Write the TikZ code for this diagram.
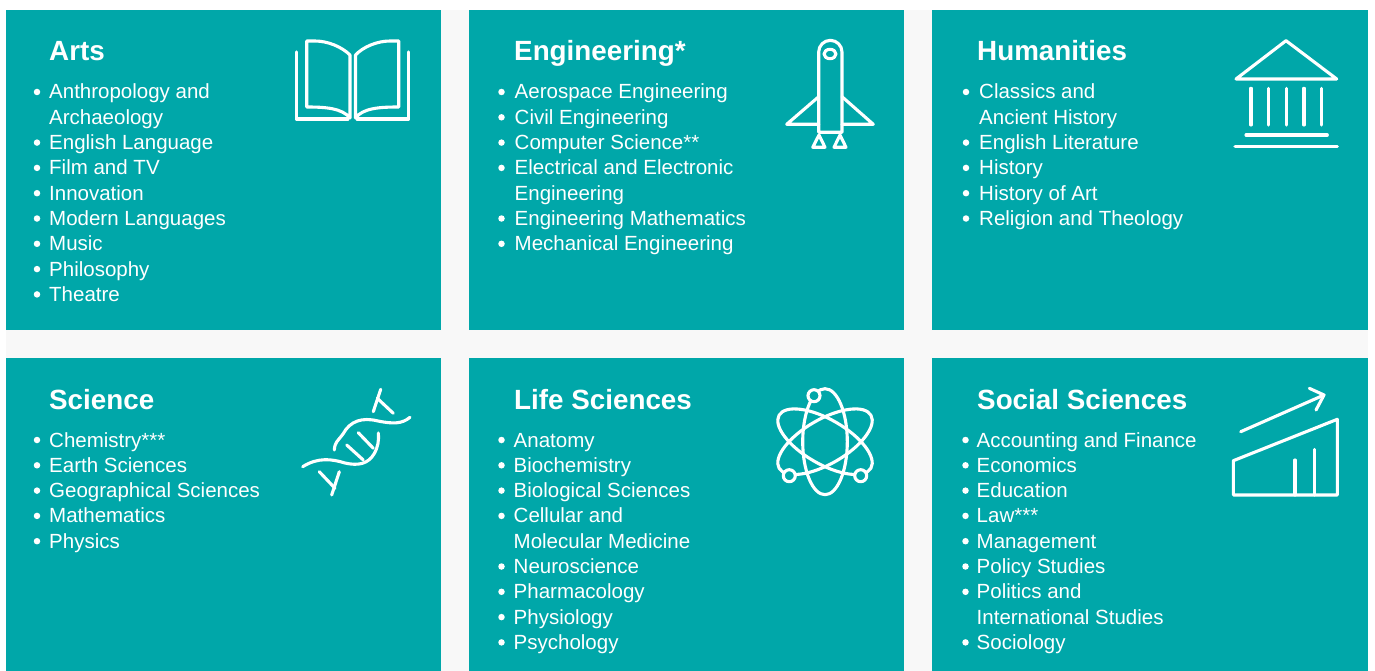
\documentclass[tikz,border=0pt]{standalone}
\usepackage{fontspec}
\setmainfont{Liberation Sans}
\definecolor{teal1}{HTML}{00A7A9}
\definecolor{gapc}{HTML}{F8F8F8}
\tikzset{x=1pt,y=-1pt,
  panel/.style={fill=teal1,draw=none,inner sep=0pt,outer sep=0pt,anchor=north west},
  ttl/.style={anchor=base west,inner sep=0pt,text=white,font=\fontsize{27.8}{32}\selectfont\bfseries},
  itm/.style={anchor=base west,inner sep=0pt,text=white,font=\fontsize{20.5}{24}\selectfont},
  bul/.style={circle,fill=white,inner sep=0pt,minimum size=6.5pt},
  icon/.style={draw=white,line width=3.1pt,line join=round,line cap=round}}
% #1 name, #2 bullet x, #3 text x, #4 first baseline, #5 list n/bullet/text
\newcommand{\lst}[5]{%
  \foreach \n/\b/\t in {#5}{%
    \pgfmathsetmacro{\yy}{#4+25.3*\n}%
    \node[itm,name=#1t\n] at (#3,\yy) {\t};
    \ifnum\b=1 \node[bul,name=#1b\n] at (#2,\yy-7) {};\fi
  }}
\begin{document}
\begin{tikzpicture}
\useasboundingbox (0,0) rectangle (1375,671);
\fill[white] (0,0) rectangle (1375,671);
\fill[gapc] (6,10) rectangle (1368,671);
\node[panel,minimum width=435pt,minimum height=320pt] (arts) at (6,10) {};
\node[panel,minimum width=435pt,minimum height=320pt] (eng) at (469,10) {};
\node[panel,minimum width=436pt,minimum height=320pt] (hum) at (932,10) {};
\node[panel,minimum width=435pt,minimum height=313pt] (sci) at (6,358) {};
\node[panel,minimum width=435pt,minimum height=313pt] (life) at (469,358) {};
\node[panel,minimum width=436pt,minimum height=313pt] (soc) at (932,358) {};
\node[ttl,name=artsT] at (49,61) {Arts};
\node[ttl,name=engT] at (514,61) {Engineering*};
\node[ttl,name=humT] at (977,61) {Humanities};
\node[ttl,name=sciT] at (49,409) {Science};
\node[ttl,name=lifeT] at (514,409) {Life Sciences};
\node[ttl,name=socT] at (977,409) {Social Sciences};
\lst{arts}{37}{49}{99}{0/1/Anthropology and,1/0/Archaeology,2/1/English Language,3/1/Film and TV,4/1/Innovation,5/1/Modern Languages,6/1/Music,7/1/Philosophy,8/1/Theatre}
\lst{eng}{501.5}{514.5}{99}{0/1/Aerospace Engineering,1/1/Civil Engineering,2/1/Computer Science**,3/1/Electrical and Electronic,4/0/Engineering,5/1/Engineering Mathematics,6/1/Mechanical Engineering}
\lst{hum}{966}{979}{99}{0/1/Classics and,1/0/Ancient History,2/1/English Literature,3/1/History,4/1/History of Art,5/1/Religion and Theology}
\lst{sci}{37}{49}{447}{0/1/Chemistry***,1/1/Earth Sciences,2/1/Geographical Sciences,3/1/Mathematics,4/1/Physics}
\lst{life}{501.5}{513.5}{447}{0/1/Anatomy,1/1/Biochemistry,2/1/Biological Sciences,3/1/Cellular and,4/0/Molecular Medicine,5/1/Neuroscience,6/1/Pharmacology,7/1/Physiology,8/1/Psychology}
\lst{soc}{965.5}{976.5}{447}{0/1/Accounting and Finance,1/1/Economics,2/1/Education,3/1/Law***,4/1/Management,5/1/Policy Studies,6/1/Politics and,7/0/International Studies,8/1/Sociology}
\begin{scope}[icon]
% book
\draw (296.5,52) -- (296.5,119) -- (348,119);
\draw (408.7,52) -- (408.7,119) -- (357,119);
\draw (350,118) .. controls (342,108) and (325,107) .. (306.7,107) -- (306.7,41) -- (315,41) .. controls (328,41) and (342,47) .. (350,55) -- cycle;
\draw (355.5,118) .. controls (363,108) and (380,107) .. (398.7,107) -- (398.7,41) -- (390,41) .. controls (377,41) and (363,47) .. (355.5,55) -- cycle;
% rocket
\draw (818.7,132.3) -- (818.7,52) arc (180:360:11.65) -- (842,132.3) -- cycle;
\draw (830,54) ellipse (6 and 4.7);
\draw (818.7,96.7) -- (786.7,124.3) -- (818.7,124.3);
\draw (842,96.7) -- (873.3,124.3) -- (842,124.3);
\draw (819,135) -- (812.7,147.3) -- (825,147.3) -- cycle;
\draw (840,135) -- (834,147.3) -- (846,147.3) -- cycle;
% temple
\draw (1286,40.7) -- (1236,79) -- (1336.7,79) -- cycle;
\foreach \cx in {1251,1268.7,1286.3,1304,1321.3} \draw (\cx,88.3) -- (\cx,125);
\draw (1246,135) -- (1327.3,135);
\draw (1235,146.7) -- (1337.3,146.7);
% dna
\draw (302.7,466.7) .. controls (318,457) and (332,459) .. (345,463) .. controls (358,466) and (368,464) .. (374,454) .. controls (378,447) and (379,441) .. (378.3,433);
\draw (410,417.3) .. controls (402,424) and (393,424) .. (378,421) .. controls (362,417) and (350,421) .. (343,434) .. controls (337,442) and (335,442) .. (334.3,450);
\draw (346.7,445) -- (363.3,460);
\draw (358.3,432.7) -- (373.3,448.3);
\draw (319.3,471.7) -- (335,488.3);
\draw (339.3,471.7) -- (331.7,495);
\draw (373.3,411.7) -- (380.7,389.3);
\draw (377.3,398.3) -- (393.3,413.3);
% atom
\draw (825,441.7) ellipse (22.3 and 53);
\draw[rotate around={60:(825,441.7)}] (825,441.7) ellipse (22.3 and 53);
\draw[rotate around={-60:(825,441.7)}] (825,441.7) ellipse (22.3 and 53);
\draw[fill=teal1] (814,395.7) circle (6);
\draw[fill=teal1] (789.3,475.7) circle (6);
\draw[fill=teal1] (860.7,475.7) circle (6);
% chart
\draw (1233.3,460.7) -- (1337.3,419.3) -- (1337.3,495) -- (1233.3,495) -- cycle;
\draw (1295,460) -- (1295,495);
\draw (1314.7,449.3) -- (1314.7,495);
\draw (1240.7,431.7) -- (1324,395);
\draw (1309.3,388.3) -- (1324,395) -- (1316,410);
\end{scope}
\end{tikzpicture}
\end{document}
